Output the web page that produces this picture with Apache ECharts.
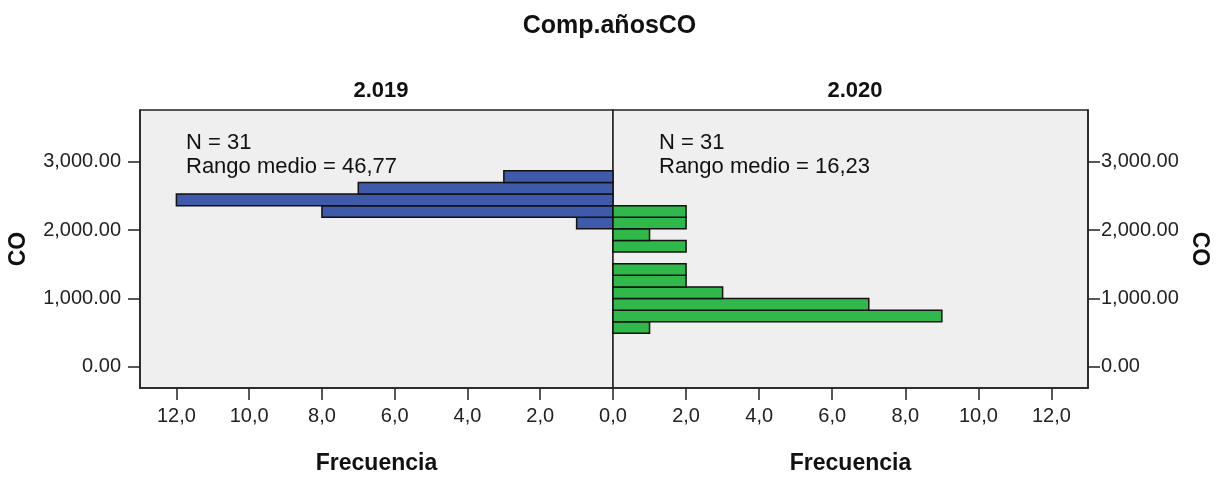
<!DOCTYPE html>
<html>
<head>
<meta charset="utf-8">
<script src="https://cdn.jsdelivr.net/npm/echarts@6/dist/echarts.min.js"></script>
<style>html,body{margin:0;padding:0;background:#fff}#c{width:1219px;height:479px}</style>
</head>
<body>
<div id="c"></div>
<script>
// ---- data ----
const chartTitle = 'Comp.añosCO';
const panelTitles = ['2.019', '2.020'];
const binStart = [490, 660, 830, 1000, 1170, 1340, 1510, 1680, 1850, 2020, 2190, 2360, 2530, 2700];
const binEnd   = [660, 830, 1000, 1170, 1340, 1510, 1680, 1850, 2020, 2190, 2360, 2530, 2700, 2870];
const counts2019 = [0, 0, 0, 0, 0, 0, 0, 0, 0, 1, 8, 12, 7, 3];
const counts2020 = [1, 9, 7, 3, 2, 2, 0, 2, 1, 2, 2, 0, 0, 0];
const statsText = ['N = 31\nRango medio = 46,77', 'N = 31\nRango medio = 16,23'];
const yTicks = [0, 1000, 2000, 3000];
const xTicksLeft = [0, 2, 4, 6, 8, 10, 12];
const xTicksRight = [2, 4, 6, 8, 10, 12];
const yAxisName = 'CO';
const xAxisName = 'Frecuencia';

// ---- chart ----
const FONT = '"Liberation Sans", Arial, sans-serif';
const chart = echarts.init(document.getElementById('c'), null, {renderer: 'canvas'});

function rows(counts) {
  return counts.map((c, i) => [binStart[i], binEnd[i], c]);
}
function makeRender(color) {
  return function (params, api) {
    const s = api.value(0), e = api.value(1), c = api.value(2);
    if (!c) return null;
    const p1 = api.coord([0, s]);
    const p2 = api.coord([c, e]);
    return {
      type: 'rect',
      shape: {
        x: Math.min(p1[0], p2[0]), y: Math.min(p1[1], p2[1]),
        width: Math.abs(p2[0] - p1[0]), height: Math.abs(p2[1] - p1[1])
      },
      style: {fill: color, stroke: '#111', lineWidth: 1.5}
    };
  };
}
const fmtX = v => v.toFixed(1).replace('.', ',');
const fmtY = v => v.toLocaleString('en-US', {minimumFractionDigits: 2, maximumFractionDigits: 2});

const axisLineStyle = {color: '#222', width: 1.5};
const labelStyle = {color: '#222', fontFamily: FONT, fontSize: 20};
const nameStyle = {color: '#111', fontFamily: FONT, fontSize: 23, fontWeight: 'bold'};

const option = {
  animation: false,
  backgroundColor: '#fff',
  title: [
    {text: chartTitle, left: 'center', top: 9, textStyle: {fontFamily: FONT, fontSize: 25, fontWeight: 'bold', color: '#111'}},
    {text: panelTitles[0], left: 376, top: 75, textAlign: 'center', textStyle: {fontFamily: FONT, fontSize: 22, fontWeight: 'bold', color: '#111'}},
    {text: panelTitles[1], left: 850, top: 75, textAlign: 'center', textStyle: {fontFamily: FONT, fontSize: 22, fontWeight: 'bold', color: '#111'}}
  ],
  graphic: [
    {type: 'text', left: 186, top: 131, z: 10, style: {text: statsText[0], fontFamily: FONT, fontSize: 22, lineHeight: 24, fill: '#111'}},
    {type: 'text', left: 659, top: 131, z: 10, style: {text: statsText[1], fontFamily: FONT, fontSize: 22, lineHeight: 24, fill: '#111'}}
  ],
  grid: [
    {left: 140, top: 110, width: 473, height: 278, show: true, containLabel: false, outerBoundsMode: 'none', backgroundColor: '#efefef', borderColor: '#222', borderWidth: 1.5},
    {left: 613, top: 110, width: 475, height: 278, show: true, containLabel: false, outerBoundsMode: 'none', backgroundColor: '#efefef', borderColor: '#222', borderWidth: 1.5}
  ],
  xAxis: [
    {
      type: 'value', gridIndex: 0, inverse: true, min: 0, max: 13,
      axisLine: {show: true, onZero: false, lineStyle: axisLineStyle},
      axisTick: {show: true, length: 12, lineStyle: axisLineStyle, customValues: xTicksLeft},
      axisLabel: Object.assign({margin: 18, formatter: fmtX, customValues: xTicksLeft}, labelStyle),
      splitLine: {show: false},
      name: xAxisName, nameLocation: 'middle', nameGap: 64, nameTextStyle: nameStyle
    },
    {
      type: 'value', gridIndex: 1, min: 0, max: 13,
      axisLine: {show: true, onZero: false, lineStyle: axisLineStyle},
      axisTick: {show: true, length: 12, lineStyle: axisLineStyle, customValues: xTicksRight},
      axisLabel: Object.assign({margin: 18, formatter: fmtX, customValues: xTicksRight}, labelStyle),
      splitLine: {show: false},
      name: xAxisName, nameLocation: 'middle', nameGap: 64, nameTextStyle: nameStyle
    }
  ],
  yAxis: [
    {
      type: 'value', gridIndex: 0, position: 'left', min: -310, max: 3760,
      axisLine: {show: true, onZero: false, lineStyle: axisLineStyle},
      axisTick: {show: true, length: 12, lineStyle: axisLineStyle, customValues: yTicks},
      axisLabel: Object.assign({margin: 19, formatter: fmtY, customValues: yTicks}, labelStyle),
      splitLine: {show: false},
      name: yAxisName, nameLocation: 'middle', nameGap: 110, nameRotate: 90, nameTextStyle: nameStyle
    },
    {
      type: 'value', gridIndex: 1, position: 'right', min: -310, max: 3760,
      axisLine: {show: true, onZero: false, lineStyle: axisLineStyle},
      axisTick: {show: true, length: 12, lineStyle: axisLineStyle, customValues: yTicks},
      axisLabel: Object.assign({margin: 13, formatter: fmtY, customValues: yTicks}, labelStyle),
      splitLine: {show: false},
      name: yAxisName, nameLocation: 'middle', nameGap: 100, nameRotate: -90, nameTextStyle: nameStyle
    }
  ],
  series: [
    {type: 'custom', xAxisIndex: 0, yAxisIndex: 0, renderItem: makeRender('#3f5aab'), encode: {x: 2, y: [0, 1]}, data: rows(counts2019)},
    {type: 'custom', xAxisIndex: 1, yAxisIndex: 1, renderItem: makeRender('#30b84a'), encode: {x: 2, y: [0, 1]}, data: rows(counts2020)}
  ]
};
chart.setOption(option);
</script>
</body>
</html>
